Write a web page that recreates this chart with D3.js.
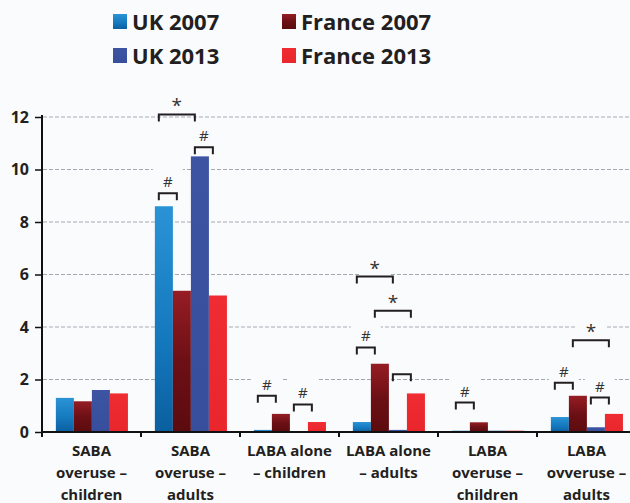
<!DOCTYPE html>
<html><head><meta charset="utf-8">
<script src="https://cdn.jsdelivr.net/npm/d3@7"></script>
<style>
body{margin:0;background:#fafbfd}
svg{display:block}
text{font-family:"Open Sans",sans-serif;font-weight:700;fill:#231f20}
</style>
</head><body><svg id="c" width="630" height="503"></svg>
<script>
// ---- data ----
const categories = ["SABA\noveruse –\nchildren", "SABA\noveruse –\nadults", "LABA alone\n– children", "LABA alone\n– adults", "LABA\noveruse –\nchildren", "LABA\novveruse –\nadults"];
const seriesNames = ["UK 2007", "France 2007", "UK 2013", "France 2013"];
const uk2007     = [1.3, 8.6, 0.08, 0.38, 0.05, 0.57];
const france2007 = [1.17, 5.38, 0.69, 2.6, 0.37, 1.38];
const uk2013     = [1.6, 10.5, 0.0, 0.08, 0.05, 0.18];
const france2013 = [1.47, 5.2, 0.38, 1.47, 0.05, 0.69];
const yTicks = [0, 2, 4, 6, 8, 10, 12];
// significance brackets: category, from series, to series, height (data units), symbol
const bracketCat   = [1, 1, 1, 2, 2, 3, 3, 3, 3, 4, 5, 5, 5];
const bracketFrom  = [0, 2, 0, 0, 2, 0, 2, 0, 1, 0, 0, 2, 1];
const bracketTo    = [1, 3, 2, 1, 3, 1, 3, 2, 3, 1, 1, 3, 3];
const bracketValue = [9.1, 10.85, 12.1, 1.38, 1.05, 3.22, 2.2, 5.92, 4.62, 1.12, 1.88, 1.31, 3.5];
const bracketSym   = ["#", "#", "*", "#", "#", "#", "", "*", "*", "#", "#", "#", "*"];

const values = [uk2007, france2007, uk2013, france2013];
const colors = ["uk07", "fr07", "uk13", "fr13"];

// ---- layout ----
const svg = d3.select("#c");
const mLeft = 42, mRight = 636, mTop = 117, mBottom = 432;
const x0 = d3.scaleBand().domain(d3.range(categories.length)).range([mLeft, mRight]).paddingInner(0).paddingOuter(0);
const bw0 = x0.bandwidth();
const x1 = d3.scaleBand().domain(d3.range(seriesNames.length)).range([bw0 * 0.14, bw0 * 0.868]).padding(0);
const y = d3.scaleLinear().domain([0, 12]).range([mBottom, mTop]);

// gradients
const defs = svg.append("defs");
function grad(id, stops) {
  const g = defs.append("linearGradient").attr("id", id).attr("x1", 0).attr("y1", 0).attr("x2", 0).attr("y2", 1);
  stops.forEach(s => g.append("stop").attr("offset", s[0]).attr("stop-color", s[1]));
}
grad("uk07", [[0, "#2a93d6"], [0.6, "#1478bd"], [1, "#0b5f9f"]]);
grad("fr07", [[0, "#961d24"], [0.5, "#6c1015"], [1, "#5c0b0f"]]);
grad("uk13", [[0, "#3d54a3"], [1, "#374e9c"]]);
grad("fr13", [[0, "#ef2c32"], [1, "#e9262c"]]);

// gridlines
svg.append("g").selectAll("line").data(yTicks.filter(d => d > 0)).join("line")
  .attr("x1", mLeft + 1).attr("x2", 630).attr("y1", d => y(d)).attr("y2", d => y(d))
  .attr("stroke", "#a3a9b1").attr("stroke-width", 1.2).attr("stroke-dasharray", "4,2");

// white boxes behind significance symbols (hide grid)
const bx = i => x0(bracketCat[i]) + x1(bracketFrom[i]) + x1.bandwidth() * 0.22;
const bx2 = i => x0(bracketCat[i]) + x1(bracketTo[i]) + x1.bandwidth() * 0.22;
const bidx = d3.range(bracketCat.length);
svg.append("g").selectAll("rect").data(bidx.filter(i => bracketSym[i] !== "")).join("rect")
  .attr("x", i => (bx(i) + bx2(i)) / 2 - 15)
  .attr("y", i => y(bracketValue[i]) - 26)
  .attr("width", 30).attr("height", 26)
  .attr("fill", "#fafbfd");

// bars
const gCat = svg.append("g").selectAll("g").data(d3.range(categories.length)).join("g")
  .attr("transform", c => `translate(${x0(c)},0)`);
gCat.selectAll("rect").data(c => values.map((arr, s) => ({s, v: arr[c]}))).join("rect")
  .attr("x", d => x1(d.s)).attr("width", x1.bandwidth())
  .attr("y", d => y(d.v)).attr("height", d => y(0) - y(d.v))
  .attr("fill", d => `url(#${colors[d.s]})`);

// brackets
const gB = svg.append("g");
gB.selectAll("path").data(bidx).join("path")
  .attr("d", i => {
    const a = bx(i), b = bx2(i), t = y(bracketValue[i]);
    return `M${a},${t + 7}V${t}H${b}V${t + 7}`;
  })
  .attr("fill", "none").attr("stroke", "#231f20").attr("stroke-width", 2);
gB.selectAll("text").data(bidx.filter(i => bracketSym[i] !== "")).join("text")
  .attr("x", i => (bx(i) + bx2(i)) / 2)
  .attr("y", i => y(bracketValue[i]) - (bracketSym[i] === "#" ? 6 : 2))
  .attr("text-anchor", "middle")
  .style("font-weight", 400)
  .style("font-size", i => bracketSym[i] === "#" ? "15px" : "19px")
  .style("fill", "#333")
  .text(i => bracketSym[i]);

// y axis
const yAxis = svg.append("g").attr("transform", `translate(${mLeft},0)`)
  .call(d3.axisLeft(y).tickValues(yTicks).tickSize(7).tickSizeOuter(0).tickPadding(6));
yAxis.select(".domain").attr("d", `M0,${y(12) - 2}V${y(0) + 5}`).attr("stroke", "#111").attr("stroke-width", 2);
yAxis.selectAll(".tick line").attr("stroke", "#111").attr("stroke-width", 1.5);
yAxis.selectAll(".tick text").style("font-size", "16px").attr("fill", "#231f20");

// x axis
const xg = svg.append("g");
xg.append("line").attr("x1", mLeft).attr("x2", 630).attr("y1", y(0)).attr("y2", y(0)).attr("stroke", "#111").attr("stroke-width", 2);
xg.selectAll("line.t").data(d3.range(1, categories.length)).join("line").attr("class", "t")
  .attr("x1", c => x0(c)).attr("x2", c => x0(c)).attr("y1", y(0)).attr("y2", y(0) + 5)
  .attr("stroke", "#111").attr("stroke-width", 2);
const xl = xg.selectAll("text").data(d3.range(categories.length)).join("text")
  .attr("text-anchor", "middle").style("font-size", "15px")
  .attr("transform", c => `translate(${x0(c) + bw0 / 2},456)`);
xl.selectAll("tspan").data(c => categories[c].split("\n")).join("tspan")
  .attr("x", 0).attr("y", (d, i) => i * 22).text(d => d);

// legend
const legX = [113, 282], legY = [30, 64];
const leg = svg.append("g").selectAll("g").data(seriesNames).join("g")
  .attr("transform", (d, i) => `translate(${legX[i % 2]},${legY[Math.floor(i / 2)]})`);
leg.append("rect").attr("x", 0).attr("y", -16).attr("width", 14).attr("height", 15)
  .attr("fill", (d, i) => `url(#${colors[i]})`);
leg.append("text").attr("x", 19).attr("y", 0).style("font-size", "22px").text(d => d);
</script>
</body></html>
